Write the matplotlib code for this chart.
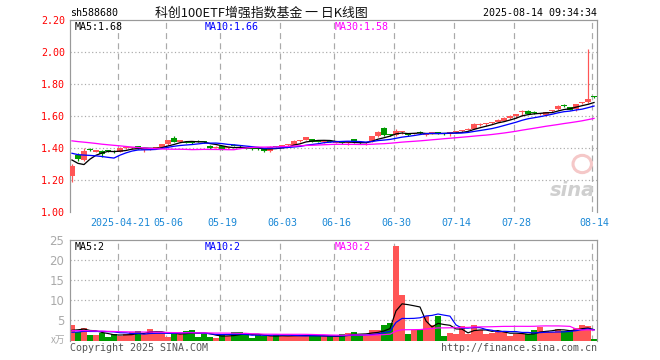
import numpy as np
import matplotlib
matplotlib.use("Agg")
import matplotlib.pyplot as plt
from matplotlib.patches import Ellipse

# ---------------- data ----------------
opens = [1.225, 1.356, 1.325, 1.392, 1.378, 1.383, 1.385, 1.382, 1.377, 1.398,
         1.400, 1.4125, 1.390, 1.390, 1.398, 1.404, 1.425, 1.460, 1.437, 1.438,
         1.435, 1.440, 1.438, 1.415, 1.402, 1.410, 1.398, 1.420, 1.412, 1.400,
         1.398, 1.396, 1.398, 1.380, 1.410, 1.410, 1.416, 1.420, 1.443, 1.450,
         1.455, 1.442, 1.437, 1.445, 1.433, 1.444, 1.432, 1.456, 1.432, 1.430,
         1.444, 1.475, 1.523, 1.483, 1.480, 1.500, 1.490, 1.486, 1.494, 1.480,
         1.487, 1.497, 1.490, 1.488, 1.500, 1.505, 1.514, 1.521, 1.546, 1.547,
         1.556, 1.564, 1.571, 1.585, 1.603, 1.623, 1.633, 1.619, 1.612, 1.604,
         1.634, 1.642, 1.665, 1.654, 1.644, 1.679, 1.685, 1.722]
highs = [1.300, 1.367, 1.398, 1.400, 1.390, 1.387, 1.390, 1.387, 1.405, 1.405,
         1.405, 1.415, 1.395, 1.397, 1.402, 1.428, 1.452, 1.475, 1.453, 1.440,
         1.440, 1.447, 1.442, 1.418, 1.410, 1.413, 1.405, 1.425, 1.418, 1.402,
         1.400, 1.400, 1.400, 1.410, 1.413, 1.417, 1.424, 1.448, 1.450, 1.470,
         1.458, 1.446, 1.452, 1.450, 1.440, 1.446, 1.437, 1.458, 1.436, 1.440,
         1.478, 1.505, 1.530, 1.490, 1.517, 1.505, 1.493, 1.490, 1.505, 1.490,
         1.500, 1.500, 1.493, 1.500, 1.507, 1.515, 1.522, 1.555, 1.555, 1.556,
         1.565, 1.580, 1.593, 1.605, 1.612, 1.635, 1.635, 1.630, 1.618, 1.627,
         1.640, 1.666, 1.675, 1.657, 1.677, 1.690, 2.020, 1.725]
lows = [1.190, 1.320, 1.320, 1.380, 1.375, 1.345, 1.375, 1.370, 1.375, 1.395,
        1.395, 1.395, 1.375, 1.385, 1.393, 1.400, 1.420, 1.438, 1.435, 1.430,
        1.425, 1.435, 1.430, 1.395, 1.400, 1.385, 1.395, 1.410, 1.405, 1.392,
        1.390, 1.390, 1.375, 1.378, 1.405, 1.408, 1.414, 1.418, 1.440, 1.448,
        1.438, 1.436, 1.433, 1.435, 1.430, 1.428, 1.420, 1.433, 1.425, 1.420,
        1.440, 1.470, 1.478, 1.475, 1.478, 1.490, 1.478, 1.480, 1.488, 1.478,
        1.485, 1.485, 1.482, 1.478, 1.495, 1.500, 1.510, 1.518, 1.540, 1.540,
        1.550, 1.560, 1.568, 1.580, 1.590, 1.600, 1.610, 1.610, 1.605, 1.600,
        1.625, 1.638, 1.655, 1.635, 1.632, 1.672, 1.682, 1.714]
closes = [1.290, 1.330, 1.383, 1.388, 1.382, 1.360, 1.383, 1.375, 1.402, 1.402,
          1.403, 1.398, 1.393, 1.395, 1.400, 1.425, 1.450, 1.440, 1.450, 1.433,
          1.432, 1.438, 1.435, 1.400, 1.405, 1.392, 1.400, 1.414, 1.410, 1.395,
          1.393, 1.394, 1.380, 1.408, 1.407, 1.413, 1.420, 1.445, 1.445, 1.466,
          1.440, 1.440, 1.448, 1.440, 1.436, 1.430, 1.434, 1.436, 1.430, 1.435,
          1.475, 1.500, 1.480, 1.480, 1.506, 1.502, 1.482, 1.488, 1.492, 1.490,
          1.497, 1.487, 1.488, 1.497, 1.503, 1.512, 1.517, 1.552, 1.549, 1.550,
          1.559, 1.575, 1.590, 1.600, 1.606, 1.633, 1.6125, 1.616, 1.614, 1.625,
          1.637, 1.664, 1.662, 1.638, 1.675, 1.683, 1.706, 1.719]
volumes = [3.9, 2.2, 3.2, 1.4, 1.4, 1.8, 0.9, 1.6, 1.1, 1.6,
           2.1, 2.4, 1.6, 2.9, 1.9, 1.9, 0.9, 1.5, 1.8, 2.4,
           2.6, 0.9, 1.7, 0.9, 0.6, 1.4, 1.1, 2.1, 2.1, 1.6,
           0.7, 1.3, 1.1, 1.1, 1.3, 1.1, 1.1, 1.3, 1.3, 1.3,
           1.1, 1.0, 1.0, 1.0, 1.1, 1.5, 1.8, 2.1, 1.4, 1.4,
           2.6, 2.6, 3.9, 4.3, 23.4, 11.4, 1.6, 2.5, 2.8, 6.0,
           3.9, 6.1, 1.1, 1.8, 1.5, 3.6, 1.5, 3.9, 2.6, 1.5,
           1.9, 2.4, 2.2, 1.1, 1.5, 1.5, 1.5, 2.6, 3.4, 2.4,
           2.2, 2.8, 2.4, 2.4, 3.2, 3.9, 3.6, 0.4]

# closes / volumes of the 29 sessions before the window (for the moving averages)
prior_closes = [1.47, 1.49, 1.50, 1.51, 1.50, 1.49, 1.48, 1.50, 1.52, 1.51,
                1.49, 1.48, 1.47, 1.46, 1.47, 1.48, 1.46, 1.45, 1.46, 1.48,
                1.415, 1.41, 1.41, 1.41, 1.40, 1.435, 1.42, 1.22, 1.26]
prior_volumes = [2.4, 2.8, 3.0, 2.6, 2.5, 2.7, 2.9, 2.6, 2.4, 2.8,
                 2.7, 2.5, 2.6, 2.8, 2.7, 2.6, 2.5, 2.7, 2.6, 2.6,
                 1.5, 1.6, 1.7, 1.5, 1.5, 1.6, 2.2, 3.2, 1.8]

tick_idx = [8, 16, 25, 35, 44, 54, 64, 74, 87]
tick_labels = ["2025-04-21", "05-06", "05-19", "06-03", "06-16",
               "06-30", "07-14", "07-28", "08-14"]
price_ticks = [1.00, 1.20, 1.40, 1.60, 1.80, 2.00, 2.20]
vol_ticks = [5, 10, 15, 20, 25]
ma_periods = [5, 10, 30]
price_ma_text = ["1.68", "1.66", "1.58"]
vol_ma_text = ["2", "2", "2"]

symbol = "sh588680"
title = "科创100ETF增强指数基金 一 日K线图"
stamp = "2025-08-14 09:34:34"

# ---------------- style ----------------
RED = "#ff5555"
GREEN = "#009a00"
MA_COLORS = ["#000000", "#0000ff", "#ff00ff"]
GRID = "#aaaaaa"
FRAME = "#999999"
MONO = "DejaVu Sans Mono"
PX = 0.72  # one pixel in points at dpi 100

W, H = 660, 360
fig = plt.figure(figsize=(W / 100, H / 100), dpi=100, facecolor="white")


def axes_px(x0, y0, x1, y1):
    return fig.add_axes([x0 / W, 1 - y1 / H, (x1 - x0) / W, (y1 - y0) / H])


ax = axes_px(70, 20, 597, 212)
axv = axes_px(70, 240, 597, 340.5)

n = len(closes)
xs = np.arange(n)
colors = [RED if c >= o else GREEN for o, c in zip(opens, closes)]


def moving_average(prior, values, period):
    arr = np.array(prior + values, dtype=float)
    out = np.convolve(arr, np.ones(period) / period, mode="valid")
    return out[-len(values):]


for a in (ax, axv):
    a.set_xlim(-0.33, 87.5)
    for side in ("left", "top", "right"):
        a.spines[side].set_color(FRAME)
        a.spines[side].set_linewidth(PX * 1.2)
    a.spines["bottom"].set_visible(False)
    for t in tick_idx:
        a.axvline(t - 0.25, color=GRID, lw=PX * 1.2, linestyle=(0, (5, 3.5)), zorder=0)
    a.tick_params(length=0)

# ---- price panel ----
ax.set_ylim(1.0, 2.2)
for p in price_ticks[1:-1]:
    ax.axhline(p, color=GRID, lw=PX * 1.2, linestyle=(0, (1, 2)), zorder=0)

ax.vlines(xs, lows, highs, colors=colors, lw=PX * 1.2, zorder=2)
bottoms = [min(o, c) for o, c in zip(opens, closes)]
heights = [max(abs(c - o), 0.0065) for o, c in zip(opens, closes)]
ax.bar(xs, heights, bottom=bottoms, width=0.86, color=colors, linewidth=0, zorder=3)

for per, col in zip(ma_periods, MA_COLORS):
    ax.plot(xs, moving_average(prior_closes, closes, per), color=col, lw=PX * 1.3, zorder=4)

ax.set_yticks(price_ticks)
ax.set_yticklabels(["%.2f" % p for p in price_ticks], color="#ff0000",
                   fontfamily=MONO, fontsize=7.2)
ax.tick_params(axis="y", pad=3.5)
ax.set_xticks(tick_idx)
ax.set_xticklabels(tick_labels, color="#1a88d6", fontfamily=MONO, fontsize=7.2)
ax.tick_params(axis="x", pad=4.5)

# watermark
ax.text(0.997, 0.06, "sina", transform=ax.transAxes, ha="right", va="bottom",
        fontsize=14, fontweight="bold", style="italic", color="#cfcfcf", zorder=1)
ax.add_patch(Ellipse((0.972, 0.25), 0.035, 0.09, transform=ax.transAxes,
                     facecolor="none", edgecolor="#f5c8c8", lw=2.2, zorder=1))

# ---- volume panel ----
axv.set_ylim(0, 25)
for v in vol_ticks[:-1]:
    axv.axhline(v, color=GRID, lw=PX * 1.2, linestyle=(0, (1, 2)), zorder=0)
axv.bar(xs, volumes, width=0.86, color=colors, linewidth=0, zorder=2)
for per, col in zip(ma_periods, MA_COLORS):
    axv.plot(xs, moving_average(prior_volumes, volumes, per), color=col, lw=PX * 1.2, zorder=4)
axv.set_yticks(vol_ticks)
axv.set_yticklabels([str(v) for v in vol_ticks], color="#aaaaaa", fontsize=8.5,
                    fontfamily="DejaVu Sans")
axv.tick_params(axis="y", pad=4)
axv.set_xticks([])


# ---- texts ----
def ftext(x, y, s, **kw):
    fig.text(x / W, 1 - y / H, s, **kw)


ftext(70, 13, symbol, ha="left", va="center", fontfamily=MONO, fontsize=7.2, color="#000000")
ftext(261, 13, title, ha="center", va="center",
      fontfamily=["Noto Sans CJK SC", "DejaVu Sans"], fontsize=9.3, color="#111111")
ftext(597, 13, stamp, ha="right", va="center", fontfamily=MONO, fontsize=7.2, color="#000000")

for x0, per, txt, col in zip([75, 205, 335], ma_periods, price_ma_text, MA_COLORS):
    ftext(x0, 27, "MA%d:%s" % (per, txt), ha="left", va="center",
          fontfamily=MONO, fontsize=7.2, color=col)
for x0, per, txt, col in zip([75, 205, 335], ma_periods, vol_ma_text, MA_COLORS):
    ftext(x0, 246.5, "MA%d:%s" % (per, txt), ha="left", va="center",
          fontfamily=MONO, fontsize=7.2, color=col)

ftext(65, 340, "x万", ha="right", va="center",
      fontfamily=["Noto Sans CJK SC", "DejaVu Sans"], fontsize=7, color="#aaaaaa")
ftext(70, 348, "Copyright 2025 SINA.COM", ha="left", va="center",
      fontfamily=MONO, fontsize=7.2, color="#555555")
ftext(597, 348, "http://finance.sina.com.cn", ha="right", va="center",
      fontfamily=MONO, fontsize=7.2, color="#555555")

fig.savefig("out.png", dpi=100, facecolor="white")
